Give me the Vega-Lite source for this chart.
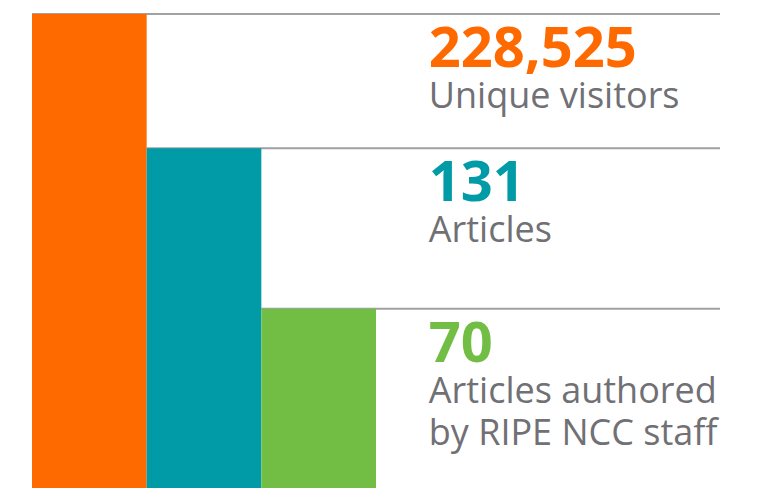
{
  "$schema": "https://vega.github.io/schema/vega-lite/v6.json",
  "width": 688,
  "height": 474,
  "autosize": {"type": "none"},
  "padding": {"left": 32, "top": 14, "right": 37, "bottom": 0},
  "background": "white",
  "config": {"view": {"stroke": null}, "font": "Open Sans"},
  "data": {
    "values": [
      {"rank": 1, "metric": "Unique visitors", "value": 228525, "level": 100},
      {"rank": 2, "metric": "Articles", "value": 131, "level": 71.7},
      {"rank": 3, "metric": "Articles authored\nby RIPE NCC staff", "value": 70, "level": 37.8}
    ]
  },
  "encoding": {
    "y": {"field": "level", "type": "quantitative", "scale": {"domain": [0, 100], "nice": false, "zero": true}, "axis": null}
  },
  "layer": [
    {
      "mark": {"type": "rule", "color": "#a0a0a5", "strokeWidth": 2},
      "encoding": {
        "x": {"field": "rank", "type": "ordinal", "bandPosition": 0, "scale": {"domain": [1, 2, 3, 4, 5, 6], "paddingInner": 0, "paddingOuter": 0}, "axis": null},
        "x2": {"value": "width"}
      }
    },
    {
      "mark": {"type": "bar"},
      "encoding": {
        "x": {"field": "rank", "type": "ordinal", "axis": null},
        "color": {"field": "rank", "type": "ordinal", "scale": {"domain": [1, 2, 3], "range": ["#ff6a00", "#009ba6", "#72be45"]}, "legend": null}
      }
    },
    {
      "mark": {"type": "text", "align": "left", "baseline": "alphabetic", "dy": 53, "fontSize": 56, "fontWeight": "bold"},
      "encoding": {
        "x": {"datum": 4, "type": "ordinal", "bandPosition": 0.46},
        "text": {"field": "value", "type": "quantitative", "format": ",d"},
        "color": {"field": "rank", "type": "ordinal", "legend": null}
      }
    },
    {
      "mark": {"type": "text", "align": "left", "baseline": "alphabetic", "dy": 94, "fontSize": 36, "color": "#707075", "lineBreak": "\n", "lineHeight": 42},
      "encoding": {
        "x": {"datum": 4, "type": "ordinal", "bandPosition": 0.46},
        "text": {"field": "metric", "type": "nominal"}
      }
    }
  ]
}
